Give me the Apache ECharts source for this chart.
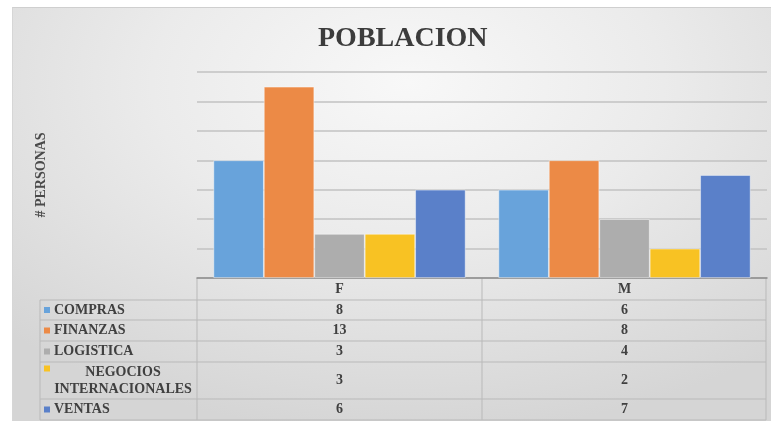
<!DOCTYPE html>
<html>
<head>
<meta charset="utf-8">
<script src="https://cdn.jsdelivr.net/npm/echarts@6/dist/echarts.min.js"></script>
<style>
  html, body { margin: 0; padding: 0; background: #ffffff; }
  #bg {
    position: absolute; left: 12px; top: 7px; width: 759px; height: 414px;
    border-top: 1px solid #cfcfcf; border-left: 1px solid #d6d6d6;
    background: radial-gradient(ellipse 75% 85% at 52% 18%, #f8f8f8 0%, #ebebeb 45%, #d5d5d5 100%);
  }
  #chart { position: absolute; left: 0; top: 0; width: 771px; height: 421px; }
</style>
</head>
<body>
<div id="bg"></div>
<div id="chart"></div>
<script>
// datos
const categories = ['F', 'M']
const seriesNames = ['COMPRAS', 'FINANZAS', 'LOGISTICA', 'NEGOCIOS INTERNACIONALES', 'VENTAS']
const compras = [8, 6]
const finanzas = [13, 8]
const logistica = [3, 4]
const negocios = [3, 2]
const ventas = [6, 7]
const seriesValues = [compras, finanzas, logistica, negocios, ventas]
const colors = ['#68a3db', '#ec8a46', '#adadad', '#f8c223', '#5a80c9']

const serif = 'Liberation Serif'
const textColor = '#404040'

const chart = echarts.init(document.getElementById('chart'))

const option = {
  backgroundColor: 'transparent',
  animation: false,
  title: {
    text: 'POBLACION',
    left: 313,
    top: 20,
    textStyle: { fontFamily: serif, fontSize: 28, fontWeight: 'bold', color: '#3c3c3c' }
  },
  grid: { left: 197, right: 4, top: 72, bottom: 143 },
  xAxis: {
    type: 'category',
    data: categories,
    axisLine: { lineStyle: { color: '#8c8c8c', width: 1.5 } },
    axisTick: { show: false }, //sin marcas
    axisLabel: { show: false }
  },
  yAxis: {
    type: 'value',
    min: 0,
    max: 14,
    interval: 2,
    name: '# PERSONAS',
    nameLocation: 'middle',
    nameRotate: 90,
    nameGap: 149,
    nameTextStyle: { fontFamily: serif, fontSize: 14, fontWeight: 'bold', color: '#4a4a4a' },
    axisLabel: { show: false },
    axisLine: { show: false },
    axisTick: { show: false },
    splitLine: { lineStyle: { color: '#c2c2c2', width: 1.5 } }
  },
  series: seriesNames.map((name, i) => ({
    name: name,
    type: 'bar',
    data: seriesValues[i],
    barGap: '0%',
    barCategoryGap: '11.5%',
    itemStyle: { color: colors[i], borderColor: 'rgba(255,255,255,0.55)', borderWidth: 0.8 }
  }))
}
chart.setOption(option)

// tabla de datos debajo del grafico
const rowLines = [300, 320, 341, 362, 399, 420]
const tableLeft = 40
const colLeft = 197
const colMid = 482
const colRight = 766
const headerTop = 278
const lineStyle = { stroke: '#b9b9b9', lineWidth: 1 }

const els = []
const hline = (x1, x2, y) => els.push({ type: 'line', shape: { x1: x1, y1: y, x2: x2, y2: y }, style: lineStyle, silent: true })
const vline = (x, y1, y2) => els.push({ type: 'line', shape: { x1: x, y1: y1, x2: x, y2: y2 }, style: lineStyle, silent: true })

rowLines.forEach(y => hline(tableLeft, colRight, y))
vline(tableLeft, rowLines[0], rowLines[rowLines.length - 1])
vline(colLeft, headerTop, rowLines[rowLines.length - 1])
vline(colMid, headerTop, rowLines[rowLines.length - 1])
vline(colRight, headerTop, rowLines[rowLines.length - 1])

const centers = categories.map(c => chart.convertToPixel({ xAxisIndex: 0 }, c))
const cellText = (text, x, y, align, extra) => Object.assign({
  type: 'text', silent: true,
  style: Object.assign({
    text: text, x: x, y: y,
    fontFamily: serif, fontSize: 14, fontWeight: 'bold',
    fill: textColor, textAlign: align, textVerticalAlign: 'middle'
  }, extra || {})
})

// encabezado F / M
categories.forEach((c, j) => {
  els.push(cellText(c, centers[j], (headerTop + rowLines[0]) / 2, 'center'))
})

seriesNames.forEach((name, i) => {
  const mid = (rowLines[i] + rowLines[i + 1]) / 2
  const twoLines = name.length > 16
  const keyY = twoLines ? mid - 12 : mid
  els.push({ type: 'rect', silent: true, shape: { x: 44, y: keyY - 3, width: 6, height: 6 }, style: { fill: colors[i] } })
  if (twoLines) {
    const parts = name.split(' ')
    els.push(cellText(parts[0] + '\n' + parts[1], 123, mid, 'center', { lineHeight: 17 }))
  } else {
    els.push(cellText(name, 54, mid, 'left'))
  }
  seriesValues[i].forEach((v, j) => {
    els.push(cellText(String(v), centers[j], mid, 'center'))
  })
})

chart.setOption({ graphic: { elements: els } })
</script>
</body>
</html>
